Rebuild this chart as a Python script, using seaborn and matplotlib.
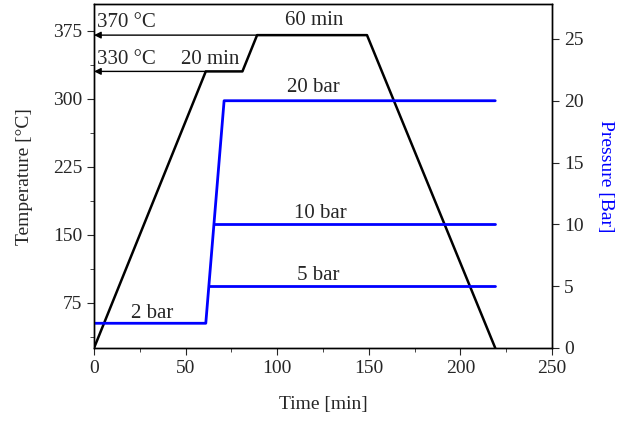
import matplotlib
matplotlib.use("Agg")
import numpy as np
import pandas as pd
import matplotlib.pyplot as plt
from matplotlib.ticker import MultipleLocator
import seaborn as sns

sns.set_style('ticks')
plt.rcParams['font.family'] = ['Liberation Serif', 'DejaVu Serif']

# Temperature programme (black)
temp_time = [0, 61, 81, 89, 149, 219]
temp_val = [25, 330, 330, 370, 370, 25]

# Pressure programme (blue): main ramp 2 -> 20 bar, with branches at 5 and 10 bar
pres_time = [0, 61, 71, 219]
pres_val = [2, 2, 20, 20]
branch_start = [62.7, 65.4]
branch_val = [5, 10]
end_time = 219

temp_df = pd.DataFrame({'time': temp_time, 'temp': temp_val})
pres_df = pd.DataFrame({'time': pres_time, 'pres': pres_val})

fs_txt = 15
fs_tick = 14
fs_lab = 14

fig, ax = plt.subplots(figsize=(6.17, 4.21), dpi=100)
fig.subplots_adjust(left=0.1524, right=0.8947, bottom=0.1734, top=0.9898)

sns.lineplot(data=temp_df, x='time', y='temp', sort=False, estimator=None,
             color='black', lw=1.8, ax=ax)
ax.set_xlim(0, 250)
ax.set_ylim(25, 404)
ax.set_yticks([75, 150, 225, 300, 375])
ax.yaxis.set_minor_locator(MultipleLocator(37.5))
ax.xaxis.set_major_locator(MultipleLocator(50))
ax.xaxis.set_minor_locator(MultipleLocator(25))
ax.set_xlabel("Time [min]", fontsize=fs_lab, labelpad=14)
ax.set_ylabel("Temperature [°C]", fontsize=fs_lab, labelpad=14)
ax.tick_params(axis='both', which='major', labelsize=fs_tick, length=5, direction='out')
ax.tick_params(axis='both', which='minor', length=3, direction='out')

# arrows to temperature axis
ax.annotate("", xy=(0, 370), xytext=(89, 370),
            arrowprops=dict(arrowstyle='-|>', color='black', lw=1,
                            mutation_scale=10, shrinkA=0, shrinkB=0))
ax.annotate("", xy=(0, 330), xytext=(61, 330),
            arrowprops=dict(arrowstyle='-|>', color='black', lw=1,
                            mutation_scale=10, shrinkA=0, shrinkB=0))
ax.text(1.6, 384, "370 °C", fontsize=fs_txt, ha='left', va='center')
ax.text(1.6, 343, "330 °C", fontsize=fs_txt, ha='left', va='center')
ax.text(63.5, 343, "20 min", fontsize=fs_txt, ha='center', va='center')
ax.text(120, 386.5, "60 min", fontsize=fs_txt, ha='center', va='center')

ax2 = ax.twinx()
sns.lineplot(data=pres_df, x='time', y='pres', sort=False, estimator=None,
             color='blue', lw=2, ax=ax2)
for t0, v in zip(branch_start, branch_val):
    bdf = pd.DataFrame({'time': [t0, end_time], 'pres': [v, v]})
    sns.lineplot(data=bdf, x='time', y='pres', sort=False, estimator=None,
                 color='blue', lw=2, ax=ax2)
ax2.set_ylim(0, 27.8)
ax2.yaxis.set_major_locator(MultipleLocator(5))
ax2.set_ylabel("Pressure [Bar]", fontsize=fs_lab, color='blue', rotation=270, labelpad=22)
ax2.tick_params(axis='y', which='major', labelsize=fs_tick, length=5, direction='out')

ax2.text(120, 21.05, "20 bar", fontsize=fs_txt, ha='center', va='center')
ax2.text(123.7, 10.85, "10 bar", fontsize=fs_txt, ha='center', va='center')
ax2.text(122.6, 5.83, "5 bar", fontsize=fs_txt, ha='center', va='center')
ax2.text(31.7, 2.83, "2 bar", fontsize=fs_txt, ha='center', va='center')

for a in (ax, ax2):
    for s in a.spines.values():
        s.set_color('black')
        s.set_linewidth(1.0)

fig.savefig("out.png", dpi=100)
